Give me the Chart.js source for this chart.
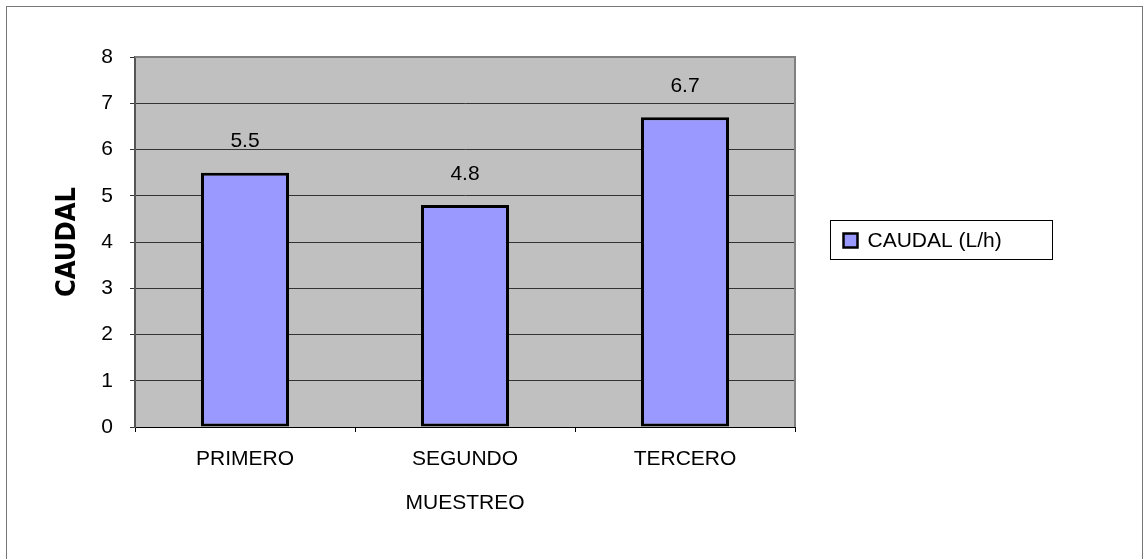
<!DOCTYPE html>
<html>
<head>
<meta charset="utf-8">
<script src="https://cdn.jsdelivr.net/npm/chart.js@4"></script>
<style>
  html, body { margin: 0; padding: 0; background: #fff; overflow: hidden; }
  #frame { position: absolute; left: 6px; top: 6px; width: 1135px; height: 600px; border: 1px solid #777; }
  #wrap { position: absolute; left: 0; top: 0; width: 1143px; height: 559px; }
</style>
</head>
<body>
<div id="frame"></div>
<div id="wrap"><canvas id="caudal"></canvas></div>
<script>
const categories = ['PRIMERO', 'SEGUNDO', 'TERCERO'];
const caudal = [5.5, 4.8, 6.7];
const seriesLabel = 'CAUDAL (L/h)';
const yMin = 0;
const yMax = 8;

const fontFamily = 'Arial, "Liberation Sans", sans-serif';
const baseFont = { family: fontFamily, size: 21 };

// gray plot area with its frame
const plotBackground = {
  id: 'plotBackground',
  beforeDraw(chart) {
    const { ctx, chartArea: a } = chart;
    ctx.save();
    ctx.fillStyle = '#C0C0C0';
    ctx.fillRect(a.left, a.top, a.right - a.left, a.bottom - a.top);
    ctx.restore();
  },
  afterDraw(chart) {
    const { ctx, chartArea: a } = chart;
    ctx.save();
    ctx.strokeStyle = '#808080';
    ctx.lineWidth = 2;
    ctx.beginPath();
    ctx.moveTo(a.left, a.top);
    ctx.lineTo(a.right, a.top);
    ctx.lineTo(a.right, a.bottom);
    ctx.stroke();
    ctx.restore();
  }
};

// value above each bar
const valueLabels = {
  id: 'valueLabels',
  afterDatasetsDraw(chart) {
    const { ctx } = chart;
    const meta = chart.getDatasetMeta(0);
    ctx.save();
    ctx.font = '21px ' + fontFamily;
    ctx.fillStyle = '#000';
    ctx.textAlign = 'center';
    ctx.textBaseline = 'middle';
    meta.data.forEach((bar, i) => {
      ctx.fillText(String(chart.data.datasets[0].data[i]), bar.x, bar.y - 31);
    });
    ctx.restore();
  }
};

// boxed legend on the right
const boxLegend = {
  id: 'boxLegend',
  afterDraw(chart) {
    const { ctx, chartArea: a } = chart;
    const ds = chart.data.datasets[0];
    const x = Math.round(a.right) + 35.5;
    const y = 220.5;
    const w = 222;
    const h = 39;
    ctx.save();
    ctx.fillStyle = '#fff';
    ctx.fillRect(x, y, w, h);
    ctx.strokeStyle = '#000';
    ctx.lineWidth = 1;
    ctx.strokeRect(x, y, w, h);
    ctx.fillStyle = ds.backgroundColor;
    ctx.fillRect(x + 13, y + 13, 14, 14);
    ctx.lineWidth = 2.5;
    ctx.strokeRect(x + 13, y + 13, 14, 14);
    ctx.fillStyle = '#000';
    ctx.font = '21px ' + fontFamily;
    ctx.textBaseline = 'middle';
    ctx.fillText(ds.label, x + 37, y + h / 2 + 1);
    ctx.restore();
  }
};

new Chart(document.getElementById('caudal'), {
  type: 'bar',
  data: {
    labels: categories,
    datasets: [{
      label: seriesLabel,
      data: caudal,
      backgroundColor: '#9999FF',
      borderColor: '#000',
      borderWidth: 3,
      borderSkipped: false,
      barPercentage: 0.4,
      categoryPercentage: 1
    }]
  },
  options: {
    responsive: true,
    maintainAspectRatio: false,
    animation: false,
    layout: { padding: { top: 57, right: 348, left: 0, bottom: 0 } },
    plugins: {
      legend: { display: false },
      tooltip: { enabled: false }
    },
    scales: {
      x: {
        afterFit(scale) { scale.height = 132; },
        grid: { display: true, drawOnChartArea: false, offset: true, color: '#000', tickLength: 5 },
        border: { color: '#000', width: 1 },
        ticks: { color: '#000', font: baseFont, padding: 15 },
        title: { display: true, text: 'MUESTREO', color: '#000', font: baseFont, padding: { top: 0, bottom: 43 } }
      },
      y: {
        min: yMin,
        max: yMax,
        afterFit(scale) { scale.width = 135; },
        grid: { color: '#333', lineWidth: 1, tickLength: 5 },
        border: { color: '#555', width: 2 },
        ticks: { stepSize: 1, color: '#000', font: baseFont, padding: 17 },
        title: {
          display: true,
          text: 'CAUDAL',
          color: '#000',
          font: { family: '"Liberation Sans Narrow", "DejaVu Sans Condensed", sans-serif', size: 27, weight: 'bold' },
          padding: { top: 52, bottom: 0 }
        }
      }
    }
  },
  plugins: [plotBackground, valueLabels, boxLegend]
});
</script>
</body>
</html>
